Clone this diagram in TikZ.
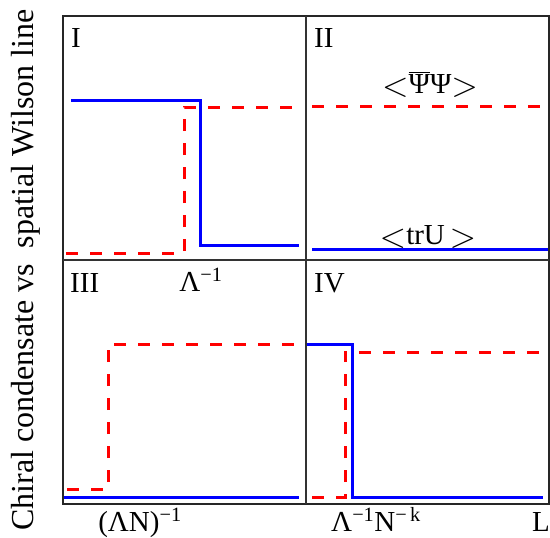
\documentclass[tikz,border=0pt]{standalone}
\usepackage{fontspec}
\setmainfont{Liberation Serif}
\newcommand{\lbra}{\raisebox{-3pt}{\scalebox{1.4}{$<$}}}
\newcommand{\rket}{\raisebox{-3pt}{\scalebox{1.4}{$>$}}}

\begin{document}
\begin{tikzpicture}[x=1pt,y=-1pt, every node/.style={font=\fontsize{29}{34}\selectfont, inner sep=0pt},
  wilson/.style={draw=blue, line width=3pt},
  condensate/.style={draw=red, line width=3pt, dash pattern=on 12pt off 12pt},
  quadrant/.style={anchor=base west}]
\useasboundingbox (0,0) rectangle (550,538);

% frame and quadrants
\draw[line width=1.5pt, black!85] (63,16) rectangle (549,504);
\draw[line width=1.2pt, black!80] (306,16) -- (306,504);
\draw[line width=1.2pt, black!80] (63,260) -- (549,260);

% I
\draw[wilson] (71,100) -- (200,100) -- (200,245) -- (299,245);
\draw[condensate] (66,253) -- (184,253) -- (184,107) -- (299,107);
% II
\draw[wilson] (312,249) -- (548,249);
\draw[condensate] (312,106) -- (548,106);
% III
\draw[wilson] (64,497) -- (299,497);
\draw[condensate] (67,489) -- (108,489) -- (108,344) -- (300,344);
% IV
\draw[wilson] (307,344) -- (352,344) -- (352,497) -- (543,497);
\draw[condensate] (312,497) -- (345,497) -- (345,352) -- (548,352);

% labels
\node[quadrant] (I) at (71,47) {I};
\node[quadrant] (II) at (314,47) {II};
\node[quadrant] (III) at (70,292) {III};
\node[quadrant] (IV) at (314,292) {IV};
\node[anchor=base] (lam) at (201,291) {Λ\textsuperscript{−1}};
\node[anchor=base] (psi) at (430,93) {\lbra$\overline{\mbox{Ψ}}$Ψ\rket};
\node[anchor=base] (tru) at (428,244) {\lbra trU\,\rket};

\node[anchor=base] (xa) at (140,531) {(ΛN)\textsuperscript{−1}};
\node[anchor=base] (xb) at (376,531) {Λ\textsuperscript{−1}N\textsuperscript{−\,k}};
\node[anchor=base] (xl) at (541,531) {L};

\node[rotate=90, anchor=base, font=\fontsize{32}{36}\selectfont] (ylab) at (33,270) {Chiral condensate vs~~spatial Wilson line};
\end{tikzpicture}
\end{document}
